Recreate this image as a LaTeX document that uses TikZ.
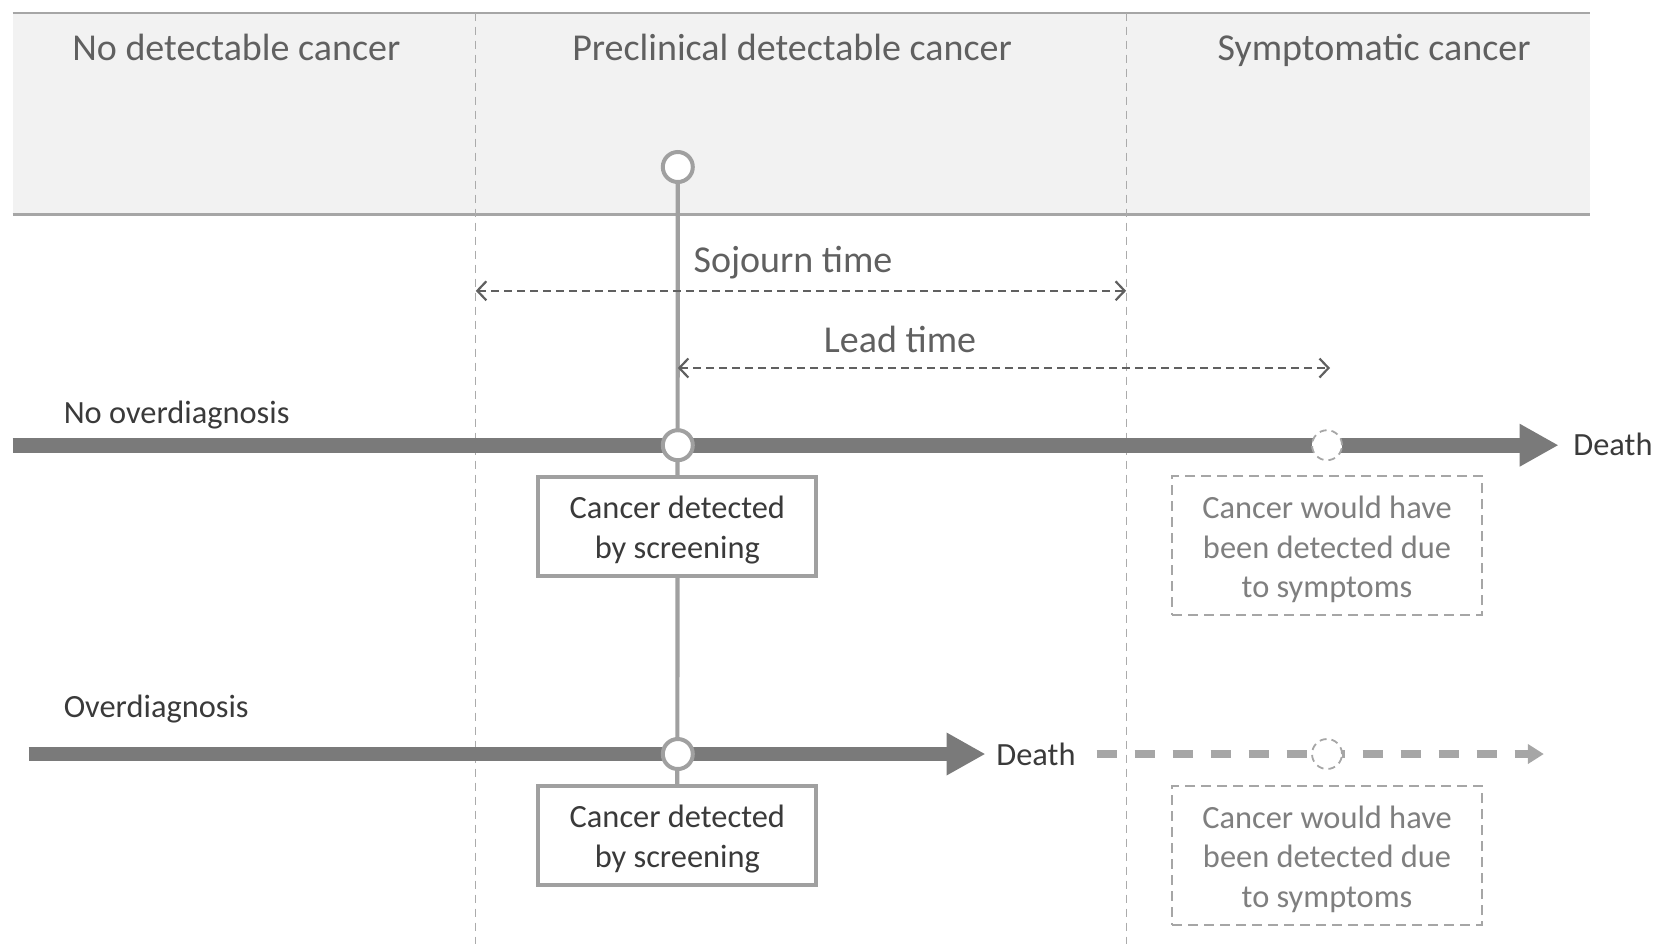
\documentclass[tikz,border=0pt]{standalone}
\usepackage{fontspec}
\setmainfont{Carlito}
\usetikzlibrary{arrows.meta}
\definecolor{hdrfill}{HTML}{F2F2F2}
\definecolor{hdrline}{HTML}{A6A6A6}
\definecolor{guide}{HTML}{ABABAB}
\definecolor{barcol}{HTML}{7A7A7A}
\definecolor{linkcol}{HTML}{A0A0A0}
\definecolor{ghostcol}{HTML}{A6A6A6}
\definecolor{titlecol}{HTML}{606060}
\definecolor{timecol}{HTML}{606060}
\definecolor{darktext}{HTML}{3A3A3A}
\definecolor{ghosttext}{HTML}{7F7F7F}
\pgfdeclarelayer{back}
\pgfdeclarelayer{mid}
\pgfsetlayers{back,mid,main}
\newcommand{\topstrut}{\rule{0pt}{15pt}}
\begin{document}
\begin{tikzpicture}[x=0.5pt,y=-0.5pt,
  hdrrule/.style={draw=hdrline,line width=1.2pt},
  guideline/.style={draw=guide,line width=0.5pt,dash pattern=on 4pt off 3pt},
  coltitle/.style={anchor=base,inner sep=0pt,font=\fontsize{19}{23}\selectfont,text=titlecol},
  timelbl/.style={anchor=base,inner sep=0pt,font=\fontsize{19}{23}\selectfont,text=timecol},
  rowlbl/.style={anchor=base west,inner sep=0pt,font=\fontsize{16.2}{20}\selectfont,text=darktext},
  timearrow/.style={draw=timecol,line width=1.1pt,dash pattern=on 4pt off 2.5pt,
    {Straight Barb[length=4.5pt,width=9.5pt]}-{Straight Barb[length=4.5pt,width=9.5pt]}},
  mainbar/.style={draw=barcol,line width=7.4pt,-{Triangle[length=19.5pt,width=20pt]}},
  ghostbar/.style={draw=ghostcol,line width=3.7pt,dash pattern=on 10pt off 9pt,
    -{Triangle[length=8pt,width=9.5pt]}},
  linkline/.style={draw=linkcol,line width=2.1pt},
  marker/.style={circle,draw=linkcol,fill=white,line width=2pt,inner sep=0pt,minimum size=15pt},
  ghostmarker/.style={circle,draw=ghostcol,fill=white,line width=0.9pt,dash pattern=on 3.5pt off 2.5pt,
    inner sep=0pt,minimum size=15pt},
  screenbox/.style={draw=linkcol,fill=white,line width=2pt,minimum width=139pt,minimum height=49.5pt,
    align=center,font=\fontsize{16.2}{20}\selectfont,text=darktext,inner sep=0pt},
  ghostbox/.style={draw=ghostcol,fill=white,line width=0.9pt,dash pattern=on 5pt off 3pt,
    minimum width=155pt,minimum height=69.5pt,
    align=center,font=\fontsize{16.2}{19.8}\selectfont,text=ghosttext,inner sep=0pt}
]
\useasboundingbox (0,0) rectangle (1658,944);

% header band
\begin{pgfonlayer}{back}
\fill[hdrfill] (12.7,12.7) rectangle (1590,214.6);
\draw[hdrrule] (12.7,12.7) -- (1590,12.7);
\draw[hdrrule] (12.7,214.6) -- (1590,214.6);
\draw[guideline] (475.8,12.7) -- (475.8,944);
\draw[guideline] (1126.1,12.7) -- (1126.1,944);
\end{pgfonlayer}

\node[coltitle] (t1) at (236.3,60) {No detectable cancer};
\node[coltitle] (t2) at (792,60) {Preclinical detectable cancer};
\node[coltitle] (t3) at (1374,60) {Symptomatic cancer};

% markers and boxes
\node[marker] (top) at (677.8,167) {};
\node[marker] (m1) at (677.8,445.2) {};
\node[marker] (m2) at (677.8,754) {};
\node[ghostmarker] (g1) at (1327,445.2) {};
\node[ghostmarker] (g2) at (1327,754) {};
\node[screenbox] (b1) at (677.3,526) {\topstrut Cancer detected\\by screening};
\node[screenbox] (b2) at (677.3,835.3) {\topstrut Cancer detected\\by screening};
\node[ghostbox] (gb1) at (1327,545.6) {\topstrut Cancer would have\\been detected due\\to symptoms};
\node[ghostbox] (gb2) at (1327,855.5) {\topstrut Cancer would have\\been detected due\\to symptoms};

% labels
\node[timelbl] (soj) at (793,272) {Sojourn time};
\node[timelbl] (lead) at (900,352) {Lead time};
\node[rowlbl] (nod) at (63.4,423) {No overdiagnosis};
\node[rowlbl] (od) at (63.4,717) {Overdiagnosis};
\node[rowlbl] (d1) at (1573,455) {Death};
\node[rowlbl] (d2) at (996,765.5) {Death};

% coordinates for free ends
\coordinate (s1) at (12.7,445.2);
\coordinate (e1) at (1558.6,445.2);
\coordinate (s2) at (28.5,754);
\coordinate (e2) at (985.5,754);
\coordinate (s3) at (1096.5,754);
\coordinate (e3) at (1543.8,754);
\coordinate (sa) at (475.8,290.8);
\coordinate (sb) at (1126.1,290.8);
\coordinate (la) at (677.8,368);
\coordinate (lb) at (1330,368);

\begin{pgfonlayer}{mid}
\draw[linkline] (top.south) -- (b2.north);
\draw[mainbar] (s1) -- (e1);
\draw[mainbar] (s2) -- (e2);
\draw[ghostbar] (s3) -- (e3);
\draw[timearrow] (sa) -- (sb);
\draw[timearrow] (la) -- (lb);
\end{pgfonlayer}
\end{tikzpicture}
\end{document}
